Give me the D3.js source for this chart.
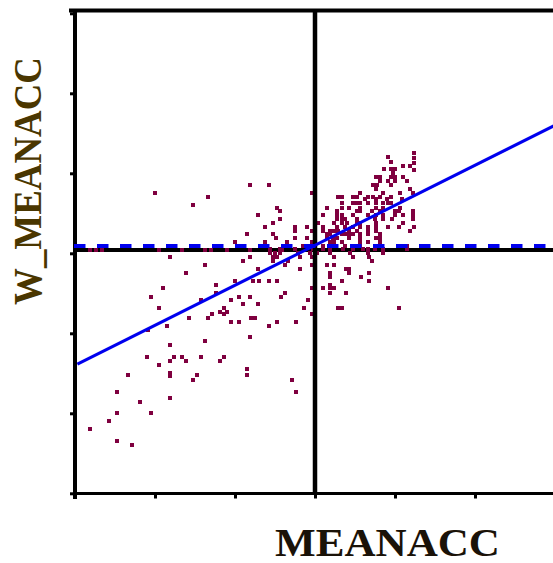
<!DOCTYPE html>
<html>
<head>
<meta charset="utf-8">
<script src="https://cdn.jsdelivr.net/npm/d3@7"></script>
<style>
  body { margin: 0; background: #fff; }
  svg { display: block; }
</style>
</head>
<body>
<div id="chart"></div>
<script>
// values (standardised MEANACC vs its spatial lag)
var xTicks = [-3, -2, -1, 0, 1, 2, 3];
var yTicks = [-3, -2, -1, 0, 1, 2, 3];
var xLabel = "MEANACC";
var yLabel = "W_MEANACC";

var slope = 0.50, intercept = 0.10;   // blue regression line
var meanLag = 0.09;                    // blue dashed line
var zeroLine = 0.04;                   // black horizontal line

var xVals = [
  -1.81,-0.90,-0.81,-1.38,-0.71,-1.61,-1.00,-0.77,-0.70,-1.24,-1.90,-1.24,-2.05,-0.95,-0.81,-1.43,-1.05,-0.90,-0.71,-1.95,
  -1.14,-1.19,-1.10,-1.29,-1.14,-1.58,-1.34,-0.80,-0.75,-1.05,-0.95,-1.85,-2.09,-0.81,-1.38,-1.81,-2.10,-1.76,-1.66,-1.43,
  -1.14,-1.81,-1.61,-1.19,-1.95,-0.85,-1.81,-1.81,-1.48,-0.85,-2.34,-1.53,-2.48,-2.19,-1.81,-2.48,-2.05,-2.58,-2.81,-2.48,
  -2.29,-0.53,-0.48,-0.53,-0.34,-0.19,-0.04,0.24,0.48,0.68,0.71,-0.38,-0.04,0.15,0.24,-0.19,0.39,0.43,0.43,0.19,
  0.19,0.58,0.68,-0.58,-0.48,0.00,0.34,0.68,0.19,0.19,0.24,0.19,-0.04,0.10,0.39,0.91,-0.38,-0.43,-0.09,-0.14,
  0.29,0.34,1.05,-0.04,-0.48,-0.24,-0.58,-0.29,-0.24,-0.81,-2.00,-1.34,-1.53,-0.71,-0.85,-1.00,-2.81,-2.74,-2.66,-1.95,
  -1.66,-1.38,-1.30,-1.10,-0.81,1.24,1.24,1.24,1.24,0.91,0.95,1.10,1.19,0.86,0.95,1.00,0.98,0.76,0.81,0.95,
  1.00,1.10,0.81,0.91,1.00,1.15,-0.58,0.73,0.78,0.95,0.76,1.19,-0.04,0.29,0.34,0.48,0.53,0.56,0.66,0.73,
  0.81,0.85,0.95,1.06,1.23,0.63,0.76,0.90,1.09,0.34,0.48,0.53,0.56,0.66,0.76,0.85,0.91,0.95,0.15,0.34,
  0.43,0.56,0.76,0.85,1.06,-0.48,-0.44,0.28,0.53,0.56,0.71,0.81,1.00,1.05,1.23,0.10,0.28,0.34,0.48,0.66,
  0.76,0.85,1.00,1.10,1.23,-0.44,0.28,0.34,0.38,0.53,0.75,0.85,0.96,1.23,-0.53,0.04,0.24,0.34,0.40,0.53,
  0.56,0.76,1.10,-0.63,-0.25,-0.10,0.10,0.28,0.38,0.48,0.56,0.66,0.76,0.91,1.05,1.24,-0.25,-0.04,0.10,0.19,
  0.24,0.29,0.43,0.53,0.66,0.76,1.19,-0.53,0.00,0.15,0.19,0.34,0.38,0.43,0.48,0.56,0.66,0.81,-0.49,-0.25,
  -0.10,0.15,0.23,0.28,0.43,0.56,0.76,0.81,-0.63,-0.35,-0.04,0.00,0.19,0.24,0.34,0.56,0.66,0.81,-0.15,-0.10,
  0.10,0.19,0.38,0.56,0.81,1.10,1.15,-0.56,-0.44,-0.25,-0.03,0.10,0.19,0.35,0.48,0.60,0.66,0.75,0.85,1.15,
  -0.56,-0.50,-0.44,-0.21,-0.06,0.03,0.19,0.44,0.66,0.85,-0.41,-0.56
];
var yVals = [
  -0.05,-0.10,-0.05,-0.15,-0.20,-0.24,-0.34,-0.34,-0.34,-0.39,-0.44,-0.49,-0.54,-0.54,-0.54,-0.58,-0.58,-0.63,-0.63,-0.68,
  -0.68,-0.73,-0.73,-0.76,-0.76,-0.81,-0.81,-0.81,-0.81,-0.86,-0.86,-0.91,-0.96,-1.05,-1.10,-1.15,-1.29,-1.29,-1.29,-1.29,
  -1.29,-1.34,-1.34,-1.34,-1.39,-1.44,-1.49,-1.53,-1.52,-1.52,-1.52,-1.58,-1.73,-1.86,-1.81,-2.00,-2.00,-2.10,-2.20,-2.34,
  -2.39,-0.05,-0.05,-0.10,-0.10,-0.05,-0.05,-0.05,-0.05,-0.05,-0.10,-0.15,-0.15,-0.15,-0.15,-0.20,-0.20,-0.20,-0.24,-0.24,
  -0.29,-0.29,-0.24,-0.34,-0.34,-0.34,-0.34,-0.34,-0.39,-0.44,-0.44,-0.49,-0.44,-0.44,-0.49,-0.44,-0.49,-0.54,-0.58,-0.68,
  -0.68,-0.68,-0.68,-0.76,-0.86,-0.86,-0.91,-1.58,-1.73,0.85,0.76,0.71,0.61,0.48,0.24,0.14,0.04,0.04,0.04,0.04,
  0.04,0.04,0.04,0.04,0.04,1.26,1.19,1.13,1.04,1.20,1.14,1.09,1.09,1.05,1.05,1.05,1.00,0.95,0.95,0.95,
  0.95,0.95,0.90,0.90,0.90,0.90,0.85,0.85,0.85,0.85,0.80,0.80,0.76,0.71,0.71,0.71,0.71,0.76,0.71,0.71,
  0.71,0.76,0.71,0.76,0.76,0.68,0.68,0.68,0.68,0.63,0.63,0.63,0.63,0.63,0.63,0.63,0.63,0.63,0.56,0.56,
  0.56,0.56,0.56,0.56,0.56,0.56,0.53,0.53,0.53,0.53,0.53,0.53,0.53,0.53,0.53,0.48,0.48,0.48,0.48,0.48,
  0.48,0.48,0.48,0.48,0.48,0.43,0.43,0.43,0.43,0.43,0.43,0.43,0.43,0.43,0.38,0.38,0.38,0.38,0.38,0.38,
  0.38,0.38,0.38,0.33,0.33,0.33,0.33,0.33,0.33,0.33,0.33,0.33,0.33,0.33,0.33,0.33,0.28,0.28,0.28,0.28,
  0.28,0.28,0.28,0.28,0.28,0.28,0.28,0.24,0.24,0.24,0.24,0.24,0.24,0.24,0.24,0.24,0.24,0.24,0.19,0.19,
  0.19,0.19,0.19,0.19,0.19,0.19,0.19,0.19,0.14,0.14,0.14,0.14,0.14,0.14,0.14,0.14,0.14,0.14,0.09,0.09,
  0.09,0.09,0.09,0.09,0.09,0.09,0.09,0.05,0.05,0.05,0.05,0.05,0.05,0.05,0.05,0.05,0.05,0.05,0.05,0.05,
  0.00,0.00,0.00,0.00,0.00,0.00,0.00,0.00,0.00,0.00,0.04,0.04
];

var W = 553, H = 563;
var svg = d3.select("#chart").append("svg")
  .attr("width", W).attr("height", H)
  .style("background", "#fff");

var x = d3.scaleLinear().domain([-3, 3]).range([75, 555]);
var y = d3.scaleLinear().domain([-3, 3]).range([493.3, 13.3]);

var maroon = "#7f003f", blue = "#0000ee";

// top frame line
svg.append("line")
  .attr("x1", 69).attr("x2", W)
  .attr("y1", 10.5).attr("y2", 10.5)
  .attr("stroke", "#000").attr("stroke-width", 4);

// left axis (ticks outside)
var yAxis = svg.append("g")
  .attr("transform", "translate(75,0)")
  .call(d3.axisLeft(y).tickValues(yTicks).tickSize(5).tickFormat(""));
yAxis.select(".domain").remove();
yAxis.selectAll(".tick line").attr("stroke", "#000").attr("stroke-width", 3);
svg.append("line")
  .attr("x1", 75).attr("x2", 75).attr("y1", 9).attr("y2", 499)
  .attr("stroke", "#000").attr("stroke-width", 4);

// bottom axis
var xAxis = svg.append("g")
  .attr("transform", "translate(0,493.5)")
  .call(d3.axisBottom(x).tickValues(xTicks).tickSize(5).tickFormat(""));
xAxis.select(".domain").remove();
xAxis.selectAll(".tick line").attr("stroke", "#000").attr("stroke-width", 3);
svg.append("line")
  .attr("x1", 73).attr("x2", W).attr("y1", 493.5).attr("y2", 493.5)
  .attr("stroke", "#000").attr("stroke-width", 3);

// horizontal reference line
svg.append("line")
  .attr("x1", 75).attr("x2", W)
  .attr("y1", y(zeroLine)).attr("y2", y(zeroLine))
  .attr("stroke", "#000").attr("stroke-width", 4);

// points
svg.append("g").selectAll("rect")
  .data(xVals.map(function(v, i) { return [v, yVals[i]]; }))
  .enter().append("rect")
  .attr("x", function(d) { return Math.round(x(d[0])) - 2; })
  .attr("y", function(d) { return Math.round(y(d[1])) - 2; })
  .attr("width", 4).attr("height", 4)
  .attr("fill", maroon)
  .attr("shape-rendering", "crispEdges");

// vertical reference line at 0
svg.append("line")
  .attr("x1", x(0)).attr("x2", x(0))
  .attr("y1", 9).attr("y2", 493)
  .attr("stroke", "#000").attr("stroke-width", 4.5);

// mean of the lag, dashed
svg.append("line")
  .attr("x1", 74).attr("x2", W)
  .attr("y1", y(meanLag)).attr("y2", y(meanLag))
  .attr("stroke", blue).attr("stroke-width", 4)
  .attr("stroke-dasharray", "11.5,11.5");

// regression line
svg.append("line")
  .attr("x1", x(-2.97)).attr("y1", y(intercept + slope * -2.97))
  .attr("x2", x(3)).attr("y2", y(intercept + slope * 3))
  .attr("stroke", blue).attr("stroke-width", 3);

// axis titles
svg.append("text")
  .attr("transform", "translate(41,305) rotate(-90)")
  .attr("textLength", 248).attr("lengthAdjust", "spacingAndGlyphs")
  .style("font-family", "'Liberation Serif', 'DejaVu Serif', serif")
  .style("font-weight", "bold")
  .style("font-size", "40px")
  .style("fill", "#4a3600")
  .text(yLabel);

svg.append("text")
  .attr("x", 275).attr("y", 556)
  .attr("textLength", 225).attr("lengthAdjust", "spacingAndGlyphs")
  .style("font-family", "'Liberation Serif', 'DejaVu Serif', serif")
  .style("font-weight", "bold")
  .style("font-size", "39px")
  .style("fill", "#1a1208")
  .text(xLabel);
</script>
</body>
</html>
